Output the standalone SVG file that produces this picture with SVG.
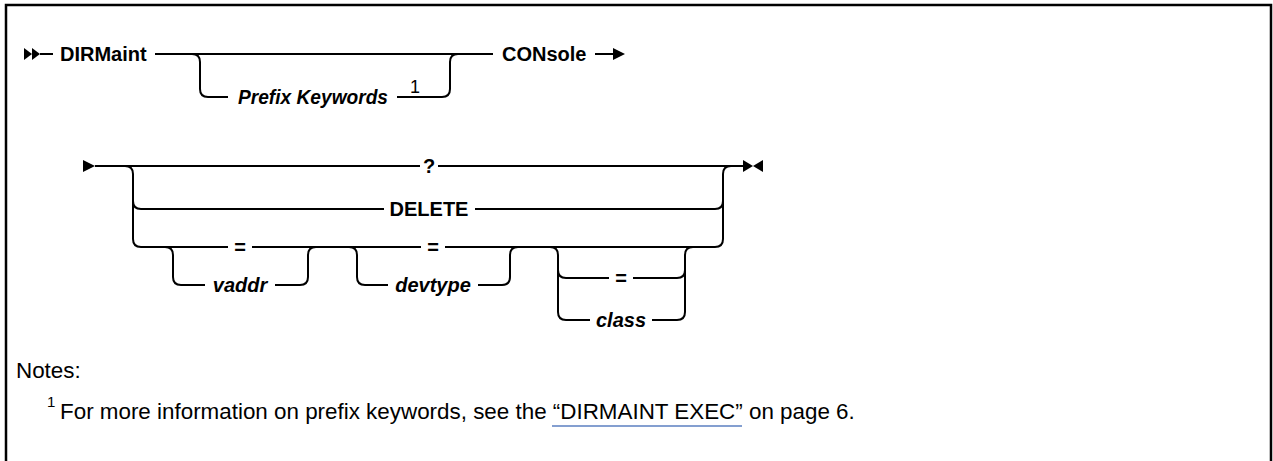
<svg xmlns="http://www.w3.org/2000/svg" width="1273" height="461" viewBox="0 0 1273 461">
<style>
.ln{stroke:#000;stroke-width:2;fill:none}
.fr{stroke:#000;stroke-width:2.5;fill:none}
.ah{fill:#000;stroke:none}
.t{font-family:"Liberation Sans",Arial,sans-serif;font-size:20px;font-weight:bold;fill:#000}
.i{font-style:italic}
.m{text-anchor:middle}
.n{font-family:"Liberation Sans",Arial,sans-serif;font-size:22.4px;fill:#000}
.sup{font-family:"Liberation Sans",Arial,sans-serif;font-size:15px;fill:#000}
.sup1{font-family:"Liberation Sans",Arial,sans-serif;font-size:18px;fill:#000}
.lk{stroke:#5b7fc0;stroke-width:1.5}
</style>
<rect x="0" y="0" width="1273" height="461" fill="#fff"/>
<path class="fr" d="M6,461 V5 H1271 V461"/>
<g id="connectors">
<polygon class="ah" points="24,48 32,54 24,60"/>
<polygon class="ah" points="32,48 40,54 32,60"/>
<path class="ln" d="M40,54 H53"/>
<path class="ln" d="M155,54 H493"/>
<path class="ln" d="M192,54 Q200,54 200,62 V89 Q200,97 208,97 H228"/>
<path class="ln" d="M397,97 H442 Q450,97 450,89 V62 Q450,54 458,54"/>
<path class="ln" d="M595,54 H614"/>
<polygon class="ah" points="613,48 625,54 613,60"/>
<polygon class="ah" points="83,160 95,166 83,172"/>
<path class="ln" d="M95,166 H420 M438,166 H743"/>
<path class="ln" d="M125,166 Q133,166 133,174 V239 Q133,247 141,247 H228"/>
<path class="ln" d="M133,201 Q133,209 141,209 H384 M475,209 H715 Q723,209 723,201"/>
<path class="ln" d="M723,239 V174 Q723,166 731,166"/>
<path class="ln" d="M252,247 H421 M445,247 H715 Q723,247 723,239"/>
<path class="ln" d="M165,247 Q173,247 173,255 V277 Q173,285 181,285 H205 M275,285 H300 Q308,285 308,277 V255 Q308,247 316,247"/>
<path class="ln" d="M349,247 Q357,247 357,255 V277 Q357,285 365,285 H388 M478,285 H502 Q510,285 510,277 V255 Q510,247 518,247"/>
<path class="ln" d="M550,247 Q558,247 558,255 V312 Q558,320 566,320 H590 M652,320 H677 Q685,320 685,312 V255 Q685,247 693,247"/>
<path class="ln" d="M558,270 Q558,278 566,278 H609 M633,278 H677 Q685,278 685,270"/>
<polygon class="ah" points="743,160 753,166 743,172"/>
<polygon class="ah" points="763,160 753,166 763,172"/>
</g>
<g id="n-dirmaint"><text class="t" x="60" y="61">DIRMaint</text></g>
<g id="n-prefix"><text class="t i" x="238" y="104" textLength="150" lengthAdjust="spacingAndGlyphs">Prefix Keywords</text><text class="sup1" x="410" y="93">1</text></g>
<g id="n-console"><text class="t" x="502" y="61">CONsole</text></g>
<g id="n-q"><text class="t m" x="429" y="173">?</text></g>
<g id="n-delete"><text class="t m" x="429" y="216">DELETE</text></g>
<g id="n-eq1"><text class="t m" x="240" y="254">=</text></g>
<g id="n-vaddr"><text class="t i m" x="240" y="292">vaddr</text></g>
<g id="n-eq2"><text class="t m" x="433" y="254">=</text></g>
<g id="n-devtype"><text class="t i m" x="433" y="292">devtype</text></g>
<g id="n-eq3"><text class="t m" x="621" y="285">=</text></g>
<g id="n-class"><text class="t i m" x="621" y="327">class</text></g>
<g id="notes">
<text class="n" x="16" y="378">Notes:</text>
<text class="sup" x="47" y="407">1</text>
<text class="n" x="60" y="419">For more information on prefix keywords, see the “DIRMAINT EXEC” on page 6.</text>
<line class="lk" x1="552" y1="426" x2="742" y2="426"/>
</g>
</svg>
